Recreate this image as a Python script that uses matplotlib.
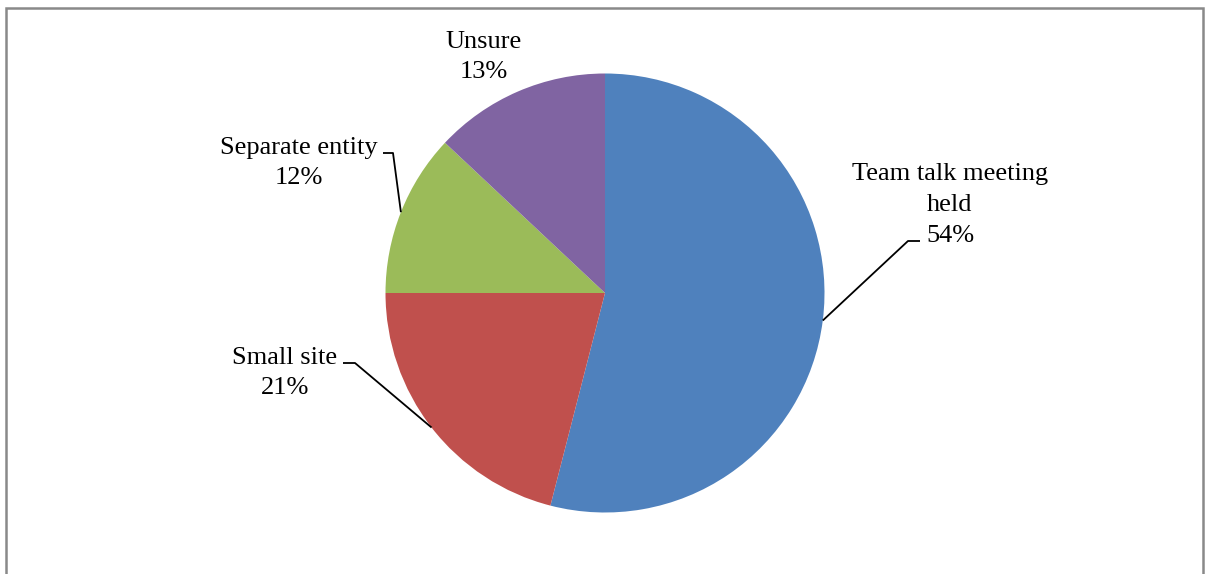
import numpy as np
import matplotlib
matplotlib.use("Agg")
import matplotlib.pyplot as plt
from matplotlib.patches import Rectangle

categories = ["Team talk meeting\nheld", "Small site", "Separate entity", "Unsure"]
values = [54, 21, 12, 13]
colors = ["#4F81BD", "#C0504D", "#9BBB59", "#8064A2"]

W, H = 1208, 574
fig = plt.figure(figsize=(W / 100, H / 100), dpi=100)
ax = fig.add_axes([0, 0, 1, 1])

cx, cy, r = 605, H - 293, 219.5
wedges, _ = ax.pie(values, colors=colors, startangle=90, counterclock=False,
                   center=(cx, cy), radius=r, frame=True,
                   wedgeprops=dict(linewidth=0))
ax.set_xlim(0, W)
ax.set_ylim(0, H)
ax.set_aspect("equal")
ax.axis("off")

# label layout: (text center x, text center y in px from top, elbow x, elbow y, end x)
layout = [
    (950, 205, 908, 241, 920),
    (285, 373, 355, 363, 343),
    (299, 163, 393, 153, 383),
    (484, 57, None, None, None),
]
font = dict(family="Liberation Serif", fontsize=19, color="black")
for w, cat, val, (tx, ty, ex, ey, hx) in zip(wedges, categories, values, layout):
    ax.text(tx, H - ty, f"{cat}\n{val}%", ha="center", va="center",
            linespacing=1.52, **font)
    if ex is not None:
        mid = np.deg2rad((w.theta1 + w.theta2) / 2)
        px, py = cx + r * np.cos(mid), cy + r * np.sin(mid)
        ax.plot([px, ex, hx], [py, H - ey, H - ey], color="black", lw=1.3,
                solid_capstyle="butt")

fig.patches.append(Rectangle((6 / W, -0.05), (1203 - 6) / W, (H - 8) / H + 0.05,
                             transform=fig.transFigure, fill=False,
                             edgecolor="#898989", linewidth=1.8))
fig.savefig("out.png", dpi=100, facecolor="white")
